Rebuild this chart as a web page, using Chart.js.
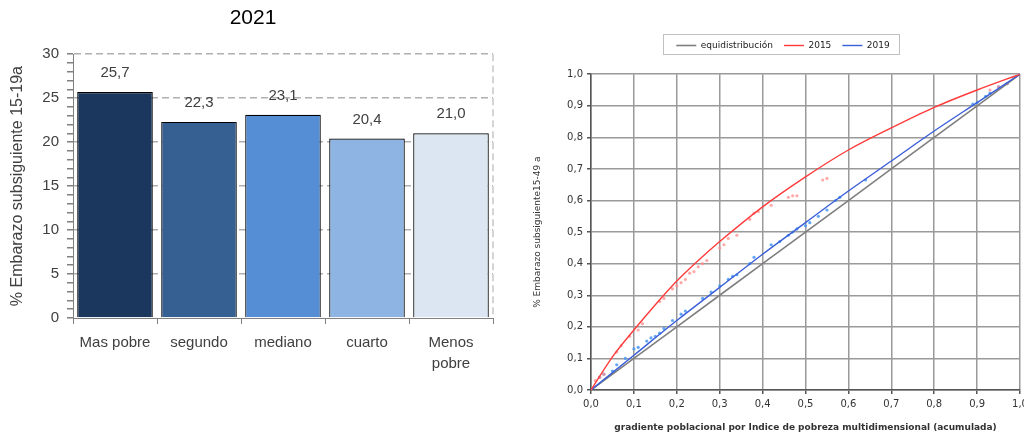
<!DOCTYPE html>
<html>
<head>
<meta charset="utf-8">
<script src="https://cdn.jsdelivr.net/npm/chart.js@4.4.1/dist/chart.umd.min.js"></script>
<style>
html, body { margin: 0; padding: 0; background: #fff; overflow: hidden; width: 1024px; height: 433px; }
#wrapBar { position: absolute; left: 0; top: 0; width: 506px; height: 433px; }
#wrapCurve { position: absolute; left: 520px; top: 0; width: 520px; height: 433px; }
</style>
</head>
<body>
<div id="wrapBar"><canvas id="quintilChart2021"></canvas></div>
<div id="wrapCurve"><canvas id="concentracionChart"></canvas></div>
<script>
// left chart: % embarazo subsiguiente por quintil
const quintiles = ['Mas pobre', 'segundo', 'mediano', 'cuarto', ['Menos', 'pobre']];
const embarazo2021 = [25.7, 22.3, 23.1, 20.4, 21.0];
const quintilColors = ['#1b375e', '#376092', '#558ed5', '#8eb4e3', '#dce6f2'];

// right chart: curva de concentracion
const gradiente = [0, 0.1, 0.2, 0.3, 0.4, 0.5, 0.6, 0.7, 0.8, 0.9, 1];
const equidistribucion = [0, 0.1, 0.2, 0.3, 0.4, 0.5, 0.6, 0.7, 0.8, 0.9, 1];
const gradiente2015 = [0, 0.05, 0.1, 0.15, 0.2, 0.25, 0.3, 0.4, 0.5, 0.6, 0.7, 0.8, 0.9, 1];
const curva2015 = [0, 0.105, 0.19, 0.27, 0.345, 0.41, 0.47, 0.58, 0.675, 0.76, 0.83, 0.895, 0.95, 1];
const curva2019 = [0, 0.11, 0.22, 0.325, 0.43, 0.53, 0.63, 0.725, 0.82, 0.91, 1];
const puntos2015X = [0.01, 0.02, 0.03, 0.06, 0.07, 0.09, 0.11, 0.12, 0.16, 0.17, 0.19, 0.2, 0.21, 0.22, 0.23, 0.24, 0.25, 0.26, 0.27, 0.3, 0.31, 0.32, 0.34, 0.37, 0.38, 0.39, 0.42, 0.46, 0.47, 0.48, 0.54, 0.55, 0.93, 0.95, 0.97];
const puntos2015Y = [0.03, 0.04, 0.05, 0.12, 0.14, 0.17, 0.19, 0.21, 0.28, 0.29, 0.32, 0.33, 0.34, 0.35, 0.37, 0.375, 0.39, 0.40, 0.41, 0.45, 0.46, 0.48, 0.49, 0.54, 0.56, 0.565, 0.585, 0.61, 0.615, 0.615, 0.665, 0.67, 0.95, 0.96, 0.97];
const puntos2019X = [0.02, 0.03, 0.05, 0.06, 0.08, 0.1, 0.11, 0.13, 0.14, 0.15, 0.16, 0.17, 0.19, 0.21, 0.22, 0.26, 0.28, 0.3, 0.32, 0.33, 0.34, 0.37, 0.38, 0.42, 0.44, 0.46, 0.47, 0.48, 0.5, 0.51, 0.53, 0.55, 0.57, 0.58, 0.64, 0.89, 0.9, 0.92, 0.93, 0.95, 0.97];
const puntos2019Y = [0.04, 0.05, 0.06, 0.08, 0.1, 0.13, 0.135, 0.155, 0.165, 0.17, 0.18, 0.195, 0.22, 0.24, 0.25, 0.29, 0.31, 0.33, 0.35, 0.36, 0.365, 0.4, 0.42, 0.46, 0.47, 0.49, 0.5, 0.51, 0.52, 0.53, 0.55, 0.57, 0.6, 0.61, 0.665, 0.905, 0.91, 0.93, 0.94, 0.96, 0.97];

const toPoints = (xs, ys) => xs.map((x, i) => ({ x: x, y: ys[i] }));
const coma = (v, d) => Number(v).toFixed(d).replace('.', ',');

// value labels above bars + dashed right edge of the plot
const barLabels = {
    id: 'barLabels',
    beforeDatasetsDraw(chart) {
        const a = chart.chartArea, ctx = chart.ctx;
        ctx.save();
        ctx.strokeStyle = '#c8c8c8';
        ctx.lineWidth = 1.5;
        ctx.setLineDash([7, 4]);
        ctx.beginPath();
        ctx.moveTo(a.right, a.top);
        ctx.lineTo(a.right, a.bottom);
        ctx.stroke();
        ctx.restore();
    },
    afterDatasetsDraw(chart) {
        const ctx = chart.ctx;
        const meta = chart.getDatasetMeta(0);
        ctx.save();
        ctx.font = '15px "Liberation Sans"';
        ctx.fillStyle = '#404040';
        ctx.textAlign = 'center';
        ctx.textBaseline = 'middle';
        meta.data.forEach((bar, i) => {
            ctx.fillText(coma(embarazo2021[i], 1), bar.x, bar.y - 19);
        });
        ctx.restore();
    }
};

// nudge the legend right a bit and draw a box round it
const legendShift = 13;
const legendBox = {
    id: 'legendBox',
    afterUpdate(chart) {
        const lg = chart.legend;
        if (!lg) return;
        lg.left += legendShift;
        lg.right += legendShift;
        lg.legendHitBoxes.forEach(b => { b.left += legendShift; });
    },
    afterDraw(chart) {
        const lg = chart.legend;
        if (!lg || !lg.legendHitBoxes.length) return;
        const boxes = lg.legendHitBoxes;
        const last = boxes[boxes.length - 1];
        const x1 = boxes[0].left - 13, x2 = last.left + last.width + 10;
        const ctx = chart.ctx;
        ctx.save();
        ctx.strokeStyle = '#c0c0c0';
        ctx.lineWidth = 1;
        ctx.strokeRect(Math.round(x1) + 0.5, 34.5, Math.round(x2 - x1), 20);
        ctx.restore();
    }
};

const quintilChart2021 = new Chart(document.getElementById('quintilChart2021'), {
    type: 'bar',
    data: {
        labels: quintiles,
        datasets: [{
            data: embarazo2021,
            backgroundColor: quintilColors,
            borderColor: '#000',
            borderWidth: 1.2,
            barPercentage: 0.9,
            categoryPercentage: 1
        }]
    },
    options: {
        responsive: true,
        maintainAspectRatio: false,
        animation: false,
        layout: { padding: 0 },
        plugins: {
            legend: { display: false },
            tooltip: { enabled: false },
            title: {
                display: true,
                text: '2021',
                color: '#000',
                font: { family: 'Liberation Sans', size: 21, weight: 'normal' },
                padding: { top: 6, bottom: 23 }
            }
        },
        scales: {
            x: {
                afterFit: s => { s.height = 115; },
                grid: { offset: true, drawOnChartArea: false, tickLength: 6, color: '#808080' },
                border: { color: '#808080' },
                ticks: { color: '#404040', padding: 9, font: { family: 'Liberation Sans', size: 15, lineHeight: 1.35 } }
            },
            y: {
                min: 0,
                max: 30,
                afterFit: s => { s.width = 73; },
                border: { color: '#808080', dash: [7, 4] },
                grid: {
                    tickLength: 6,
                    color: ctx => ctx.tick && ctx.tick.value % 5 === 0 && ctx.tick.value > 0 ? '#b0b0b0' : 'rgba(0,0,0,0)',
                    tickColor: '#808080',
                    lineWidth: 1.5
                },
                ticks: {
                    stepSize: 1,
                    autoSkip: false,
                    padding: 8,
                    color: '#404040',
                    font: { family: 'Liberation Sans', size: 15 },
                    callback: v => v % 5 === 0 ? v : ''
                },
                title: {
                    display: true,
                    text: '% Embarazo subsiguiente 15-19a',
                    color: '#404040',
                    font: { family: 'Liberation Sans', size: 16 },
                    padding: { top: 8, bottom: 0 }
                }
            },
            // empty right-hand spacer so the title stays centred on the canvas
            yRight: {
                position: 'right',
                min: 0,
                max: 30,
                afterFit: s => { s.width = 13; },
                grid: { display: false },
                border: { display: false },
                ticks: { display: false }
            }
        }
    },
    plugins: [barLabels]
});

const concentracionChart = new Chart(document.getElementById('concentracionChart'), {
    type: 'line',
    data: {
        datasets: [{
            label: 'equidistribución',
            data: toPoints(gradiente, equidistribucion),
            borderColor: '#7f7f7f',
            borderWidth: 1.6,
            pointRadius: 0,
            order: 3
        }, {
            label: '2015',
            data: toPoints(gradiente2015, curva2015),
            borderColor: '#ff3b3b',
            borderWidth: 1.4,
            pointRadius: 0,
            cubicInterpolationMode: 'monotone',
            order: 1
        }, {
            label: '2019',
            data: toPoints(gradiente, curva2019),
            borderColor: '#3a5fd9',
            borderWidth: 1.4,
            pointRadius: 0,
            cubicInterpolationMode: 'monotone',
            order: 2
        }, {
            type: 'scatter',
            label: 'puntos 2015',
            data: toPoints(puntos2015X, puntos2015Y),
            backgroundColor: 'rgba(255,140,140,0.75)',
            borderWidth: 0,
            pointRadius: 1.6,
            order: 4
        }, {
            type: 'scatter',
            label: 'puntos 2019',
            data: toPoints(puntos2019X, puntos2019Y),
            backgroundColor: 'rgba(70,150,245,0.85)',
            borderWidth: 0,
            pointRadius: 1.6,
            order: 4
        }]
    },
    options: {
        responsive: true,
        maintainAspectRatio: false,
        animation: false,
        layout: { padding: { left: 0, right: 20, top: 30, bottom: 0 } },
        plugins: {
            tooltip: { enabled: false },
            legend: {
                display: true,
                labels: {
                    filter: item => item.datasetIndex < 3,
                    sort: (a, b) => a.datasetIndex - b.datasetIndex,
                    usePointStyle: true,
                    pointStyle: 'line',
                    pointStyleWidth: 20,
                    boxWidth: 20,
                    padding: 11,
                    color: '#222',
                    font: { family: 'DejaVu Sans', size: 9 }
                }
            },
            // empty spacer between legend and plot
            subtitle: {
                display: true,
                text: ' ',
                weight: 500,
                font: { size: 1 },
                padding: { top: 0, bottom: 13 }
            }
        },
        scales: {
            x: {
                type: 'linear',
                min: 0,
                max: 1,
                afterFit: s => { s.height = 43; },
                border: { color: '#555', width: 1.5 },
                grid: { color: '#9a9a9a', lineWidth: 1.5, tickLength: 4, tickColor: '#555' },
                ticks: {
                    stepSize: 0.1,
                    color: '#333',
                    padding: 4,
                    font: { family: 'DejaVu Sans', size: 10 },
                    callback: v => coma(v, 1)
                },
                title: {
                    display: true,
                    text: 'gradiente poblacional por Indice de pobreza multidimensional (acumulada)',
                    color: '#333',
                    font: { family: 'DejaVu Sans', size: 9, weight: 'bold' },
                    padding: { top: 0, bottom: 0 }
                }
            },
            y: {
                type: 'linear',
                min: 0,
                max: 1,
                afterFit: s => { s.width = 71; },
                border: { color: '#555', width: 1.5 },
                grid: { color: '#9a9a9a', lineWidth: 1.5, tickLength: 4, tickColor: '#555' },
                ticks: {
                    stepSize: 0.1,
                    color: '#333',
                    padding: 4,
                    font: { family: 'DejaVu Sans', size: 10 },
                    callback: v => coma(v, 1)
                },
                title: {
                    display: true,
                    text: '% Embarazo subsiguiente15-49 a',
                    color: '#333',
                    font: { family: 'DejaVu Sans', size: 9 },
                    padding: { top: 12, bottom: 0 }
                }
            }
        }
    },
    plugins: [legendBox]
});
</script>
</body>
</html>
